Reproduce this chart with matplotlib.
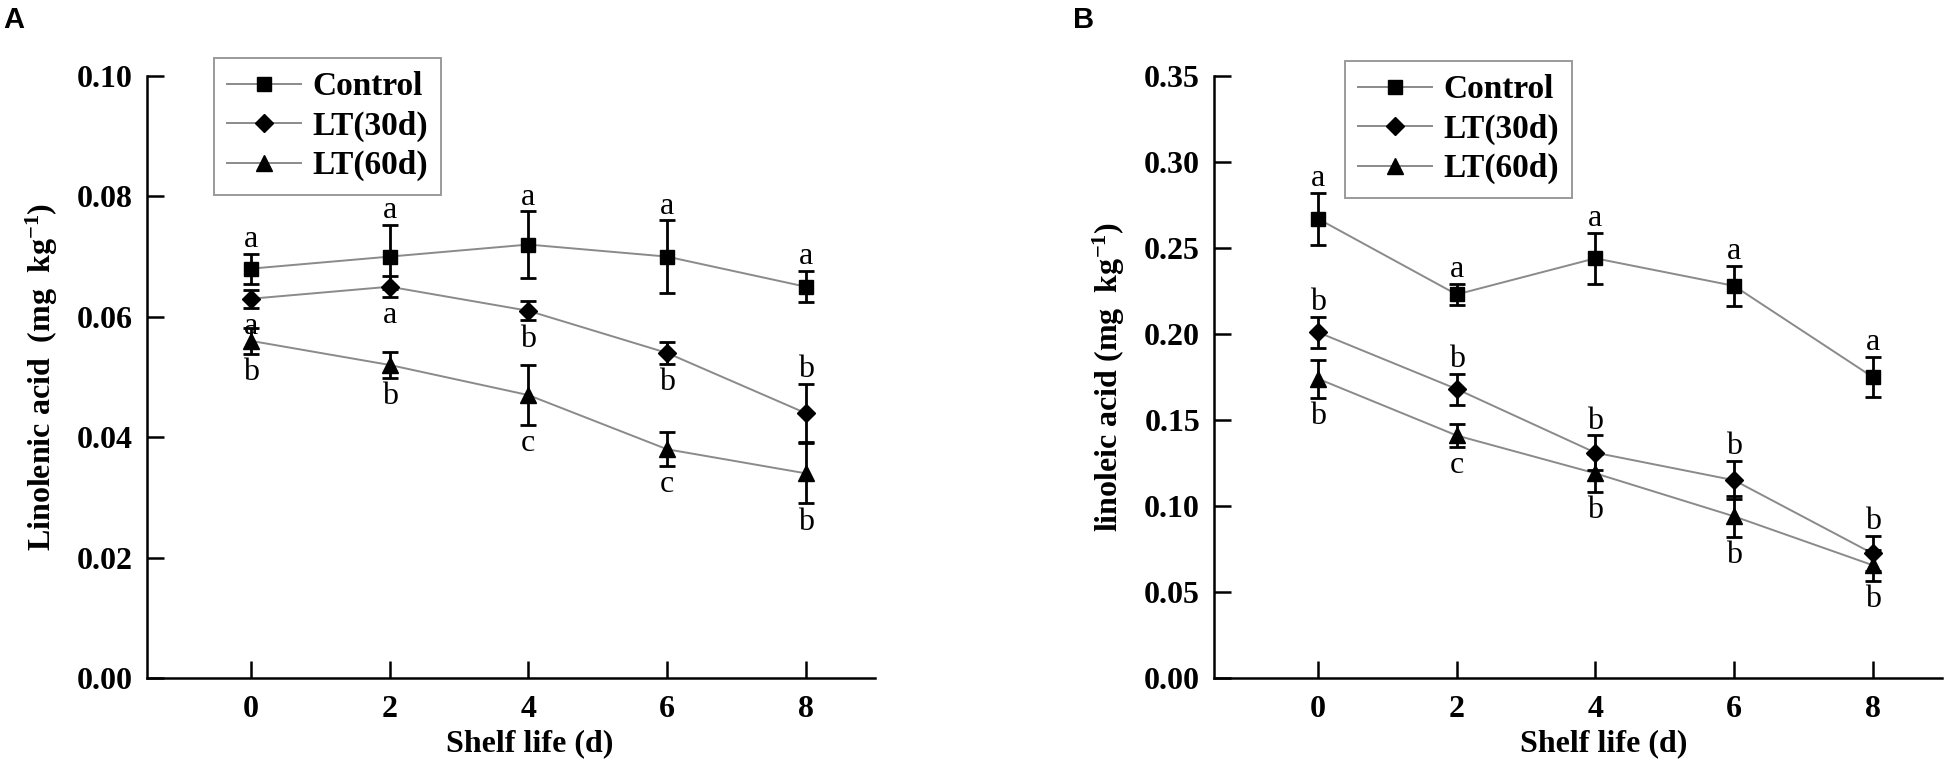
import matplotlib
matplotlib.use("Agg")
import matplotlib.pyplot as plt

plt.rcParams['font.family'] = ['Liberation Serif', 'DejaVu Serif']
plt.rcParams['mathtext.fontset'] = 'custom'
plt.rcParams['mathtext.rm'] = 'Liberation Serif:bold'
plt.rcParams['mathtext.bf'] = 'Liberation Serif:bold'
plt.rcParams['mathtext.default'] = 'rm'

# ---------------- data ----------------
days = [0, 2, 4, 6, 8]
series_names = ["Control", "LT(30d)", "LT(60d)"]

# Panel A: linolenic acid
a_control = [0.068, 0.070, 0.072, 0.070, 0.065]
a_control_err = [0.0025, 0.0053, 0.0055, 0.0060, 0.0026]
a_lt30 = [0.063, 0.065, 0.061, 0.054, 0.044]
a_lt30_err = [0.0015, 0.0017, 0.0016, 0.0018, 0.0048]
a_lt60 = [0.056, 0.052, 0.047, 0.038, 0.034]
a_lt60_err = [0.0022, 0.0021, 0.0050, 0.0028, 0.0050]
a_control_letters = ["a", "a", "a", "a", "a"]
a_lt30_letters = ["a", "a", "b", "b", "b"]
a_lt60_letters = ["b", "b", "c", "c", "b"]
a_control_side = ["up", "up", "up", "up", "up"]
a_lt30_side = ["down", "down", "down", "down", "up"]
a_lt60_side = ["down", "down", "down", "down", "down"]

# Panel B: linoleic acid
b_control = [0.267, 0.223, 0.244, 0.228, 0.175]
b_control_err = [0.015, 0.006, 0.015, 0.0116, 0.0116]
b_lt30 = [0.201, 0.168, 0.131, 0.115, 0.0724]
b_lt30_err = [0.009, 0.009, 0.010, 0.011, 0.010]
b_lt60 = [0.174, 0.141, 0.119, 0.094, 0.0656]
b_lt60_err = [0.011, 0.0065, 0.011, 0.012, 0.009]
b_control_letters = ["a", "a", "a", "a", "a"]
b_lt30_letters = ["b", "b", "b", "b", "b"]
b_lt60_letters = ["b", "c", "b", "b", "b"]
b_control_side = ["up", "up", "up", "up", "up"]
b_lt30_side = ["up", "up", "up", "up", "up"]
b_lt60_side = ["down", "down", "down", "down", "down"]

a_yticks = [0.00, 0.02, 0.04, 0.06, 0.08, 0.10]
b_yticks = [0.00, 0.05, 0.10, 0.15, 0.20, 0.25, 0.30, 0.35]

markers = ["s", "D", "^"]
msizes = [10, 9.5, 11]

W, H = 1950, 782
fig = plt.figure(figsize=(W / 100, H / 100), dpi=100)
axA = fig.add_axes([147 / W, 104 / H, 728 / W, 602 / H])
axB = fig.add_axes([1214 / W, 104 / H, 728 / W, 602 / H])

line_color = "#8a8a8a"


def draw_panel(ax, vals, errs, letters, sides, yticks, ylabel, legend_anchor,
               xlabel_x):
    handles = []
    for i, (v, e, let, sd) in enumerate(zip(vals, errs, letters, sides)):
        h, = ax.plot(days, v, color=line_color, lw=1.4, marker=markers[i],
                     markersize=msizes[i], mfc="black", mec="black",
                     label=series_names[i], zorder=2)
        ax.errorbar(days, v, yerr=e, fmt="none", ecolor="black",
                    elinewidth=2.0, capsize=6, capthick=2.0, zorder=3)
        handles.append(h)
        for x, y, err, t, s in zip(days, v, e, let, sd):
            if s == "up":
                ax.annotate(t, (x, y + err), xytext=(0, 5),
                            textcoords="offset points", ha="center",
                            va="baseline", fontsize=23)
            else:
                ax.annotate(t, (x, y - err), xytext=(0, -3),
                            textcoords="offset points", ha="center",
                            va="top", fontsize=23)
    ax.set_xlim(-1.5, 9)
    ax.set_ylim(yticks[0], yticks[-1])
    ax.set_xticks(days)
    ax.set_yticks(yticks)
    ax.set_yticklabels([f"{t:.2f}" for t in yticks])
    for sp in ["top", "right"]:
        ax.spines[sp].set_visible(False)
    for sp in ["left", "bottom"]:
        ax.spines[sp].set_linewidth(1.8)
    ax.tick_params(axis="both", direction="in", length=12, width=1.8,
                   labelsize=23)
    ax.tick_params(axis="x", pad=12)
    ax.tick_params(axis="y", pad=10)
    for lab in ax.get_xticklabels() + ax.get_yticklabels():
        lab.set_fontweight("bold")
    ax.set_xlabel("Shelf life (d)", fontsize=23, fontweight="bold",
                  labelpad=4, x=xlabel_x)
    ax.set_ylabel(ylabel, fontsize=23, fontweight="bold", labelpad=12)
    leg = fig.legend(handles=handles, loc="upper left",
                     bbox_to_anchor=legend_anchor,
                     bbox_transform=fig.transFigure,
                     prop={"size": 24, "weight": "bold"},
                     frameon=True, fancybox=False, handlelength=2.2,
                     handletextpad=0.35, labelspacing=0.25,
                     borderpad=0.4, borderaxespad=0)
    leg.get_frame().set_edgecolor("#808080")
    leg.get_frame().set_linewidth(1.4)


draw_panel(axA, [a_control, a_lt30, a_lt60],
           [a_control_err, a_lt30_err, a_lt60_err],
           [a_control_letters, a_lt30_letters, a_lt60_letters],
           [a_control_side, a_lt30_side, a_lt60_side],
           a_yticks, "Linolenic acid  (mg  kg$^{-1}$)",
           (214 / W, 1 - 58 / H), 0.525)
draw_panel(axB, [b_control, b_lt30, b_lt60],
           [b_control_err, b_lt30_err, b_lt60_err],
           [b_control_letters, b_lt30_letters, b_lt60_letters],
           [b_control_side, b_lt30_side, b_lt60_side],
           b_yticks, "linoleic acid (mg  kg$^{-1}$)",
           (1345 / W, 1 - 61 / H), 0.535)

fig.text(3 / W, 1 - 6 / H, "A", fontsize=21, fontweight="bold",
         family=["Liberation Sans", "DejaVu Sans"], va="top", ha="left")
fig.text(1073 / W, 1 - 6 / H, "B", fontsize=21, fontweight="bold",
         family=["Liberation Sans", "DejaVu Sans"], va="top", ha="left")

fig.savefig("out.png", dpi=100, facecolor="white")
